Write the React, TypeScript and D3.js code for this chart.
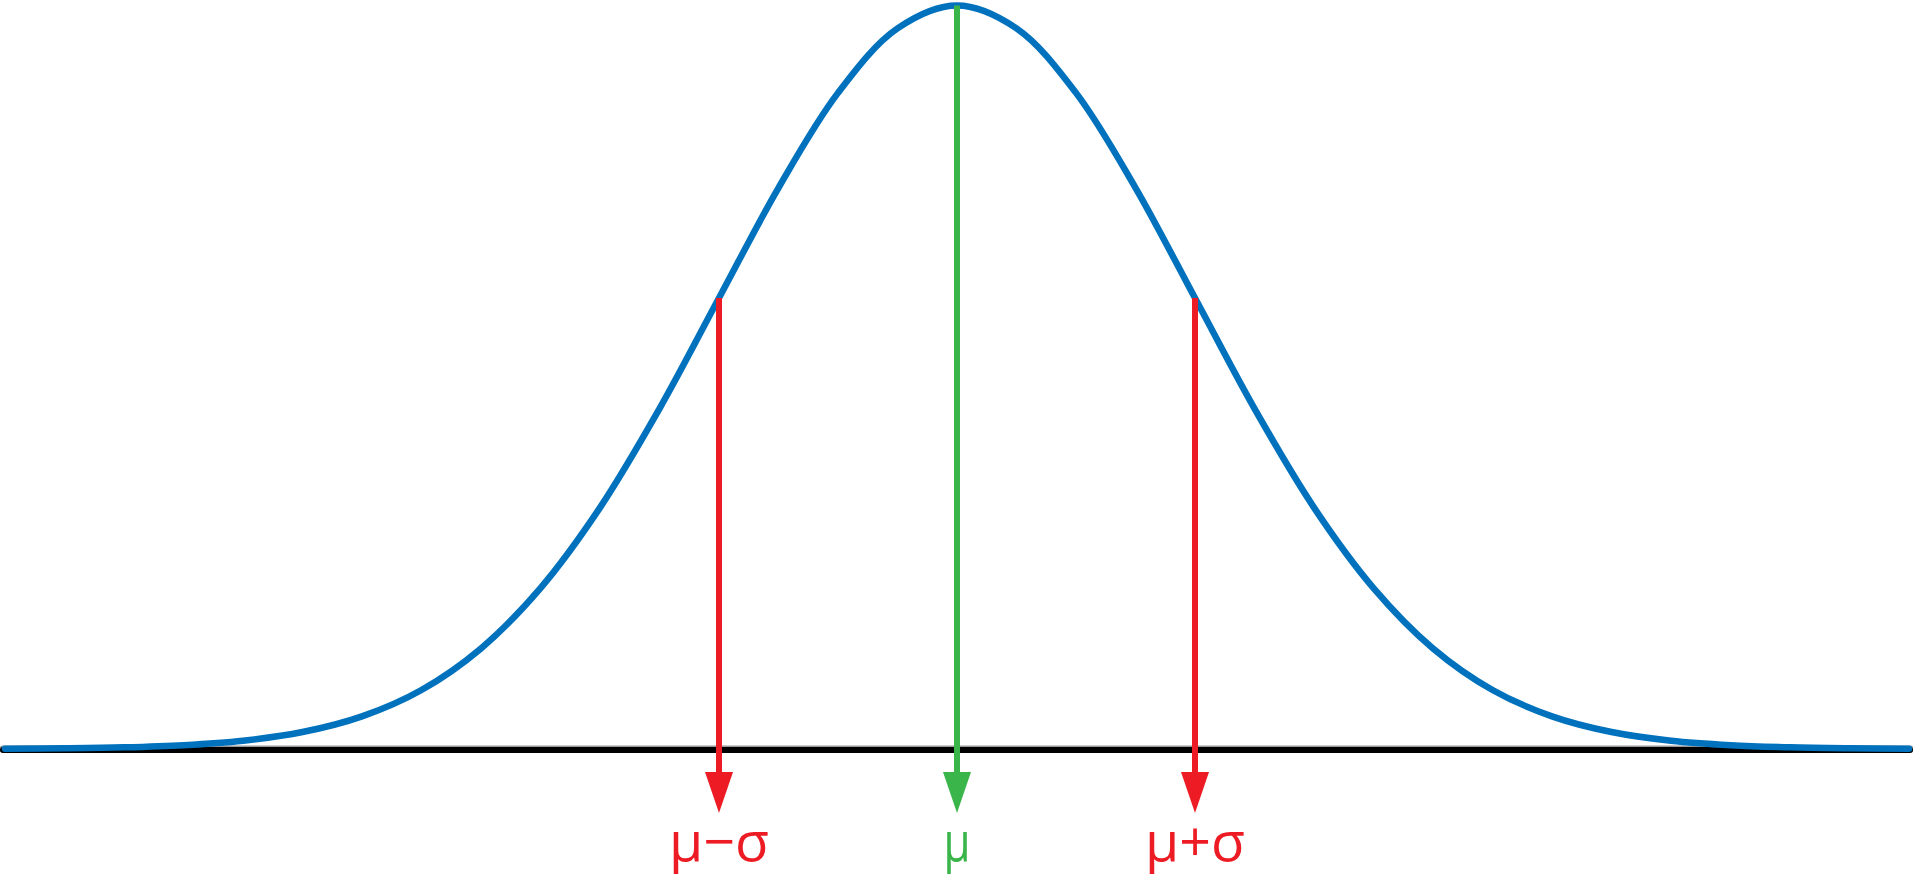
import * as d3 from 'd3';

// standard-score positions along the curve and the relative heights
const zValues = [
  -4, -3.75, -3.5, -3.25, -3, -2.75, -2.5, -2.25, -2, -1.75, -1.5, -1.25, -1, -0.75, -0.5, -0.25, 0,
  0.25, 0.5, 0.75, 1, 1.25, 1.5, 1.75, 2, 2.25, 2.5, 2.75, 3, 3.25, 3.5, 3.75, 4,
];
const heights = [
  0.0003, 0.0009, 0.0022, 0.0051, 0.0111, 0.0228, 0.0439, 0.0794, 0.1353, 0.2165, 0.3247, 0.4578,
  0.6065, 0.7548, 0.8825, 0.9692, 1, 0.9692, 0.8825, 0.7548, 0.6065, 0.4578, 0.3247, 0.2165,
  0.1353, 0.0794, 0.0439, 0.0228, 0.0111, 0.0051, 0.0022, 0.0009, 0.0003,
];

// markers: position (in sigma units), label, colour
const markerZ = [-1, 0, 1];
const markerLabels = ['μ−σ', 'μ', 'μ+σ'];
const markerColors = ['#ED1C24', '#39B54A', '#ED1C24'];

export default function App() {
  const width = 1913;
  const height = 878;
  const baseY = 750;
  const arrowBase = 772;
  const arrowTip = 813;
  const arrowHalf = 14;

  const x = d3.scaleLinear([-4, 4], [5, 1909]);
  const y = d3.scaleLinear([0, 1], [749, 5.5]);

  const points = zValues.map((z, i) => [z, heights[i]] as [number, number]);
  const line = d3
    .line<[number, number]>()
    .x((d) => x(d[0]))
    .y((d) => y(d[1]))
    .curve(d3.curveCatmullRom.alpha(0.5));

  const heightAt = (z: number) => heights[zValues.indexOf(z)];

  return (
    <svg
      width={width}
      height={height}
      style={{ position: 'absolute', left: 0, top: 0, background: '#fff' }}
    >
      <line x1={3} x2={1910} y1={baseY - 1} y2={baseY - 1} stroke='#9a9a9a' strokeWidth={7} strokeLinecap='round' />
      <line x1={3} x2={1910} y1={baseY} y2={baseY} stroke='#000' strokeWidth={6} strokeLinecap='round' />
      <path d={line(points) ?? ''} fill='none' stroke='#0071BC' strokeWidth={6.5} strokeLinecap='round' />
      {markerZ.map((z, i) => {
        const cx = x(z);
        const color = markerColors[i];
        return (
          <g key={i}>
            <line
              x1={cx}
              x2={cx}
              y1={y(heightAt(z))}
              y2={arrowBase + 2}
              stroke={color}
              strokeWidth={6}
            />
            <path
              d={`M${cx - arrowHalf},${arrowBase}L${cx + arrowHalf},${arrowBase}L${cx},${arrowTip}Z`}
              fill={color}
            />
            <text
              x={cx}
              y={861}
              textAnchor='middle'
              fill={color}
              fontFamily='"Open Sans", "Noto Sans", sans-serif'
              fontSize={55}
              textLength={markerLabels[i].length > 1 ? 100 : 27}
              lengthAdjust='spacingAndGlyphs'
            >
              {markerLabels[i]}
            </text>
          </g>
        );
      })}
    </svg>
  );
}
